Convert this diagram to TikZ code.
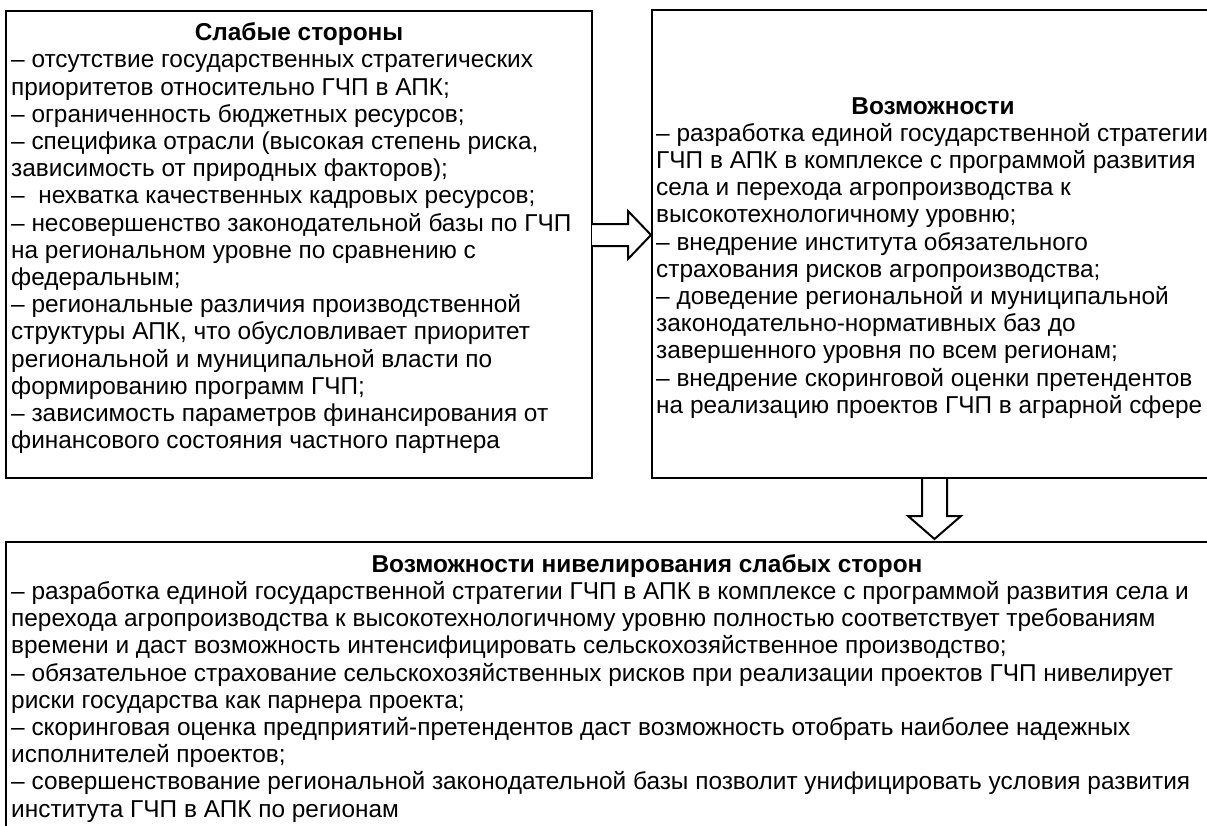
\documentclass[tikz,border=0pt]{standalone}
\usepackage{fontspec}
\setmainfont{Liberation Sans}
\newcommand{\bodyfont}{\fontsize{24.4}{27.2}\selectfont}
\begin{document}
\begin{tikzpicture}[x=1pt,y=-1pt,
  box/.style={draw, line width=2.5pt, inner sep=0pt},
  ttl/.style={anchor=base, inner sep=0pt, font=\bodyfont\bfseries},
  body/.style={anchor=base west, inner sep=0pt, font=\bodyfont},
  fatarrow/.style={draw, line width=2pt, fill=white, line join=miter}]
\clip (0,0) rectangle (1207,825);
\fill[white] (0,0) rectangle (1207,825);
% boxes
\draw[box] (6,11) rectangle (592,478);
\draw[box] (652,10) rectangle (1240,478);
\draw[box] (6,542) rectangle (1240,880);
% left box
\node[ttl] (lt) at (299,40.6) {Слабые стороны};
\node[body] (lb) at (11,67.8) {\parbox[t]{600pt}{\bodyfont
– отсутствие государственных стратегических\\
приоритетов относительно ГЧП в АПК;\\
– ограниченность бюджетных ресурсов;\\
– специфика отрасли (высокая степень риска,\\
зависимость от природных факторов);\\
–\ \ нехватка качественных кадровых ресурсов;\\
– несовершенство законодательной базы по ГЧП\\
на региональном уровне по сравнению с\\
федеральным;\\
– региональные различия производственной\\
структуры АПК, что обусловливает приоритет\\
региональной и муниципальной власти по\\
формированию программ ГЧП;\\
– зависимость параметров финансирования от\\
финансового состояния частного партнера}};
% right box
\node[ttl] (rt) at (933,114) {Возможности};
\node[body] (rb) at (656,141.2) {\parbox[t]{600pt}{\bodyfont
– разработка единой государственной стратегии\\
ГЧП в АПК в комплексе с программой развития\\
села и перехода агропроизводства к\\
высокотехнологичному уровню;\\
– внедрение института обязательного\\
страхования рисков агропроизводства;\\
– доведение региональной и муниципальной\\
законодательно-нормативных баз до\\
завершенного уровня по всем регионам;\\
– внедрение скоринговой оценки претендентов\\
на реализацию проектов ГЧП в аграрной сфере}};
% bottom box
\node[ttl] (bt) at (647,572.2) {Возможности нивелирования слабых сторон};
\node[body] (bb) at (11,599.4) {\parbox[t]{1200pt}{\bodyfont
– разработка единой государственной стратегии ГЧП в АПК в комплексе с программой развития села и\\
перехода агропроизводства к высокотехнологичному уровню полностью соответствует требованиям\\
времени и даст возможность интенсифицировать сельскохозяйственное производство;\\
– обязательное страхование сельскохозяйственных рисков при реализации проектов ГЧП нивелирует\\
риски государства как парнера проекта;\\
– скоринговая оценка предприятий-претендентов даст возможность отобрать наиболее надежных\\
исполнителей проектов;\\
– совершенствование региональной законодательной базы позволит унифицировать условия развития\\
института ГЧП в АПК по регионам}};
% block arrows
\draw[fatarrow] (592,224) -- (628,224) -- (628,211) -- (651,235) -- (628,259) -- (628,246) -- (592,246);
\draw[fatarrow] (922,479) -- (922,516) -- (908,516) -- (934.5,539) -- (961,516) -- (947,516) -- (947,479);
\end{tikzpicture}
\end{document}
